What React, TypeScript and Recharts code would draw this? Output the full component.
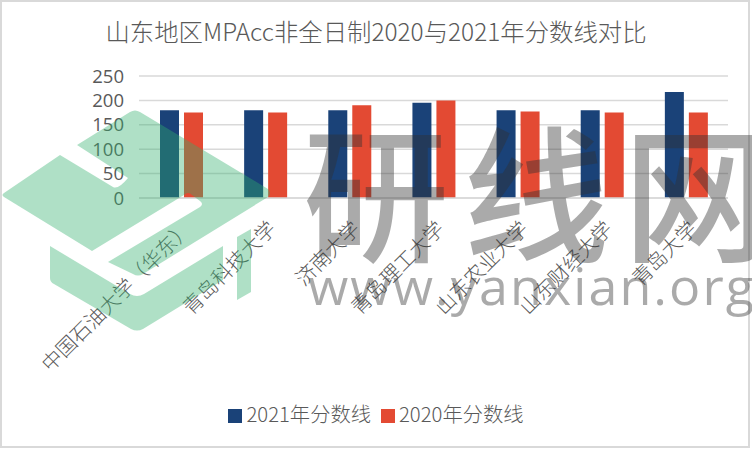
import React from "react";
import { BarChart, Bar, XAxis, YAxis, CartesianGrid, Legend } from "recharts";

const schools = [
  "中国石油大学（华东）",
  "青岛科技大学",
  "济南大学",
  "青岛理工大学",
  "山东农业大学",
  "山东财经大学",
  "青岛大学",
];
const scores2021 = [180, 180, 180, 195, 180, 180, 217];
const scores2020 = [175, 175, 190, 200, 177, 175, 175];
const yTicks = [0, 50, 100, 150, 200, 250];

const chartData = schools.map((school, i) => ({
  school,
  s2021: scores2021[i],
  s2020: scores2020[i],
}));

const CJK = '"Noto Sans CJK SC", "Noto Sans", sans-serif';

// category labels, slanted up to the right
const SlantedTick = ({ x, y, payload }: any) => (
  <g transform={`translate(${x + 12},${y + 26})`}>
    <text
      textAnchor="end"
      transform="rotate(-45)"
      fontSize={20.2}
      fontFamily={CJK}
      fontWeight={300}
      fill="#595959"
    >
      {payload.value}
    </text>
  </g>
);

// watermark laid over the whole chart
const Watermark = () => (
  <svg
    width={752}
    height={450}
    style={{ position: "absolute", left: 0, top: 0, pointerEvents: "none" }}
  >
    <g fill="rgb(49,176,107)" fillOpacity={0.39}>
      <path d="M4 193 L60 155 L113 187 Q118 190 128 178 L77 145 L130 112 Q135 109 140 112 L268 189 Q272 193 268 197 L143 274 Q138 277 133 274 L108 262 L200 207 Q204 204 200 201 L192 195 Q188 191 184 195 L92 251 L4 197 Q1 195 4 193 Z" />
      <path d="M50 246 L130 294 Q137 298 144 294 L223 246 L223 280 L143 329 Q137 332 131 329 L54 284 Q50 282 50 278 Z" />
      <path d="M237 237 L251 229 L251 292 L237 300 Z" />
    </g>
    <g fill="rgb(48,48,48)" fillOpacity={0.41}>
      <text
        x={303}
        y={250}
        fontFamily={CJK}
        fontWeight={500}
        fontSize={146}
        letterSpacing={14}
      >
        研线网
      </text>
      <text
        x={308}
        y={305}
        fontFamily="'Open Sans', sans-serif"
        fontSize={52}
        textLength={446}
        lengthAdjust="spacing"
      >
        www.yanxian.org
      </text>
    </g>
  </svg>
);

const App = () => {
  return (
    <div
      style={{
        position: "fixed",
        left: 0,
        top: 0,
        width: 752,
        height: 450,
        background: "#fff",
        overflow: "hidden",
      }}
    >
      <div
        style={{
          position: "absolute",
          left: 0,
          top: 0,
          width: 746,
          height: 444,
          border: "2px solid #d9d9d9",
          pointerEvents: "none",
        }}
      />
      <div
        style={{
          position: "absolute",
          left: 0,
          width: 752,
          top: 16,
          textAlign: "center",
          fontFamily: CJK,
          fontWeight: 300,
          fontSize: 24.4,
          lineHeight: "30px",
          color: "#595959",
        }}
      >
        山东地区MPAcc非全日制2020与2021年分数线对比
      </div>
      <BarChart
        width={752}
        height={450}
        data={chartData}
        barSize={19}
        barGap={5}
        margin={{ top: 76, right: 24, bottom: 0, left: 0 }}
      >
        <CartesianGrid vertical={false} stroke="#d9d9d9" strokeWidth={1.5} />
        <XAxis
          dataKey="school"
          interval={0}
          height={222}
          axisLine={{ stroke: "#d9d9d9", strokeWidth: 1.5 }}
          tickLine={false}
          tickMargin={0}
          tick={<SlantedTick />}
        />
        <YAxis
          width={139}
          domain={[0, 250]}
          ticks={yTicks}
          interval={0}
          axisLine={false}
          tickLine={false}
          tickMargin={9}
          tick={{ fontSize: 18.5, fontFamily: "'Open Sans', sans-serif", fill: "#595959" }}
        />
        <Legend
          verticalAlign="bottom"
          iconType="square"
          iconSize={14}
          itemSorter={() => 0}
          wrapperStyle={{
            fontFamily: CJK,
            fontWeight: 300,
            fontSize: 20.3,
            bottom: 22,
            left: 5,
            width: 752,
          }}
          formatter={(value: string) => <span style={{ color: "#595959" }}>{value}</span>}
        />
        <Bar dataKey="s2021" name="2021年分数线" fill="#1a4278" isAnimationActive={false} />
        <Bar dataKey="s2020" name="2020年分数线" fill="#e34a33" isAnimationActive={false} />
      </BarChart>
      <Watermark />
    </div>
  );
};

export default App;
